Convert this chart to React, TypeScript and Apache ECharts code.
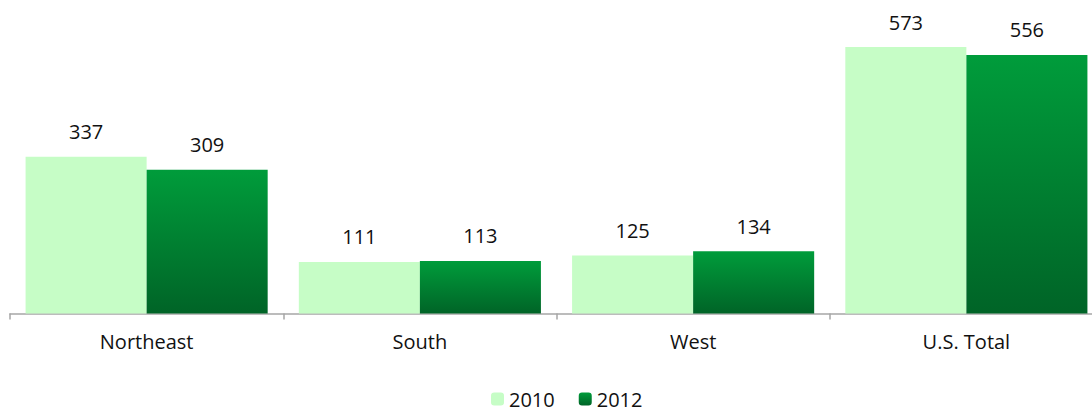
import React, { useEffect, useRef } from "react";
import * as echarts from "echarts";

const categories = ["Northeast", "South", "West", "U.S. Total"];
const series2010 = [337, 111, 125, 573];
const series2012 = [309, 113, 134, 556];
const seriesNames = ["2010", "2012"];

export default function App() {
  const ref = useRef<HTMLDivElement>(null);
  useEffect(() => {
    if (!ref.current) return;
    const chart = echarts.init(ref.current, undefined, { renderer: "svg" });
    const font = "'Open Sans', 'Noto Sans', sans-serif";
    const labelStyle = {
      show: true,
      position: "top" as const,
      distance: 15,
      color: "#111",
      fontSize: 20,
      fontFamily: font,
    };
    chart.setOption({
      animation: false,
      backgroundColor: "#fff",
      grid: { left: 10, top: 34.5, right: -11, height: 279, outerBoundsMode: "none", containLabel: false },
      xAxis: {
        type: "category",
        data: categories,
        axisLine: { show: true, lineStyle: { color: "#a6a6a6", width: 1.5 } },
        axisTick: { show: true, length: 6, lineStyle: { color: "#a6a6a6", width: 1.5 } },
        axisLabel: { color: "#111", fontSize: 20, fontFamily: font, margin: 18 },
      },
      yAxis: {
        type: "value",
        min: 0,
        max: 600,
        show: false,
        splitLine: { show: false },
      },
      legend: {
        top: 389,
        left: 491,
        padding: 0,
        itemWidth: 13,
        itemHeight: 13,
        itemGap: 24,
        textStyle: { color: "#111", fontSize: 20, fontFamily: font, lineHeight: 18 },
        data: seriesNames,
      },
      series: [
        {
          name: seriesNames[0],
          type: "bar",
          data: series2010,
          barGap: "0%",
          barCategoryGap: "11.4%",
          itemStyle: { color: "#c6fdc6" },
          label: labelStyle,
        },
        {
          name: seriesNames[1],
          type: "bar",
          data: series2012,
          barGap: "0%",
          barCategoryGap: "11.4%",
          itemStyle: {
            color: new echarts.graphic.LinearGradient(0, 0, 0, 1, [
              { offset: 0, color: "#009c3b" },
              { offset: 1, color: "#006427" },
            ]),
          },
          label: labelStyle,
        },
      ],
    });
    return () => chart.dispose();
  }, []);
  return (
    <div
      ref={ref}
      style={{ position: "fixed", left: 0, top: 0, width: 1092, height: 413 }}
    />
  );
}
